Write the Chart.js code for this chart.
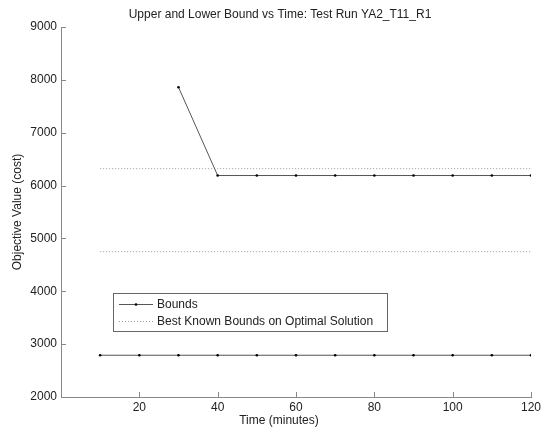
<!DOCTYPE html>
<html lang="en">
<head>
  <meta charset="UTF-8" />
  <title>Upper and Lower Bound vs Time</title>
  <script src="https://cdn.jsdelivr.net/npm/chart.js"></script>
  <style>
    html, body { margin: 0; padding: 0; background: #fff; }
    #wrap { width: 548px; height: 433px; }
  </style>
</head>
<body>
  <div id="wrap"><canvas id="boundChart" width="548" height="433"></canvas></div>

  <script>
    // data
    const timeMinutes = [10, 20, 30, 40, 50, 60, 70, 80, 90, 100, 110, 120];
    const upperBound = [null, null, 7860, 6190, 6190, 6190, 6190, 6190, 6190, 6190, 6190, 6190];
    const lowerBound = [2790, 2790, 2790, 2790, 2790, 2790, 2790, 2790, 2790, 2790, 2790, 2790];
    const bestUpper = [6320, 6320, 6320, 6320, 6320, 6320, 6320, 6320, 6320, 6320, 6320, 6320];
    const bestLower = [4750, 4750, 4750, 4750, 4750, 4750, 4750, 4750, 4750, 4750, 4750, 4750];
    const xTicks = [20, 40, 60, 80, 100, 120];
    const yTicks = [2000, 3000, 4000, 5000, 6000, 7000, 8000, 9000];

    const FONT = '"Liberation Sans", Arial, sans-serif';
    const toPoints = arr => timeMinutes.map((t, i) => ({ x: t, y: arr[i] }));

    const boundStyle = {
      label: 'Bounds',
      borderColor: '#555',
      borderWidth: 1,
      pointRadius: 1.3,
      pointBackgroundColor: '#000',
      pointBorderWidth: 0,
      fill: false,
      tension: 0
    };
    const bestStyle = {
      label: 'Best Known Bounds on Optimal Solution',
      borderColor: '#999',
      borderWidth: 1,
      borderDash: [1, 2],
      pointRadius: 0,
      fill: false,
      tension: 0
    };

    // titles, inward ticks and the boxed legend, MATLAB style
    const matlabLook = {
      id: 'matlabLook',
      afterDraw(chart) {
        const ctx = chart.ctx;
        const xs = chart.scales.x, ys = chart.scales.y;
        const a = chart.chartArea;
        ctx.save();
        ctx.strokeStyle = '#888';
        ctx.lineWidth = 1;
        ctx.beginPath();
        xTicks.forEach(v => {
          const px = Math.round(xs.getPixelForValue(v)) + 0.5;
          ctx.moveTo(px, a.bottom);
          ctx.lineTo(px, a.bottom - 5);
        });
        yTicks.forEach(v => {
          const py = Math.round(ys.getPixelForValue(v)) + 0.5;
          ctx.moveTo(a.left, py);
          ctx.lineTo(a.left + 5, py);
        });
        ctx.stroke();

        ctx.fillStyle = '#222';
        ctx.font = '12px ' + FONT;
        ctx.textAlign = 'center';
        ctx.textBaseline = 'middle';
        ctx.fillText('Upper and Lower Bound vs Time: Test Run YA2_T11_R1', 280, 15);
        ctx.fillText('Time (minutes)', 279, 421);
        ctx.save();
        ctx.translate(18, (a.top + a.bottom) / 2);
        ctx.rotate(-Math.PI / 2);
        ctx.fillText('Objective Value (cost)', 0, 0);
        ctx.restore();

        // legend box
        const lx = 113, ly = 293, lw = 274, lh = 38;
        ctx.fillStyle = '#fff';
        ctx.fillRect(lx, ly, lw, lh);
        ctx.strokeStyle = '#666';
        ctx.strokeRect(lx + 0.5, ly + 0.5, lw, lh);
        const seen = [];
        chart.data.datasets.forEach(ds => {
          if (!seen.find(s => s.label === ds.label)) seen.push(ds);
        });
        seen.forEach((ds, i) => {
          const ry = 304 + i * 17 + 0.5;
          ctx.strokeStyle = ds.borderColor;
          ctx.setLineDash(ds.borderDash || []);
          ctx.beginPath();
          ctx.moveTo(119, ry);
          ctx.lineTo(153, ry);
          ctx.stroke();
          ctx.setLineDash([]);
          if (ds.pointRadius > 0) {
            ctx.fillStyle = '#000';
            ctx.beginPath();
            ctx.arc(136, ry, 1.3, 0, Math.PI * 2);
            ctx.fill();
          }
          ctx.fillStyle = '#222';
          ctx.textAlign = 'left';
          ctx.fillText(ds.label, 157, ry);
        });
        ctx.restore();
      }
    };

    new Chart(document.getElementById('boundChart'), {
      type: 'line',
      data: {
        datasets: [
          Object.assign({ data: toPoints(upperBound) }, boundStyle),
          Object.assign({ data: toPoints(lowerBound) }, boundStyle),
          Object.assign({ data: toPoints(bestUpper) }, bestStyle),
          Object.assign({ data: toPoints(bestLower) }, bestStyle)
        ]
      },
      options: {
        responsive: false,
        animation: false,
        spanGaps: false,
        layout: { padding: { top: 27, right: 17, left: 0, bottom: 0 } },
        plugins: {
          legend: { display: false },
          title: { display: false },
          tooltip: { enabled: false }
        },
        scales: {
          x: {
            type: 'linear',
            min: 0,
            max: 120,
            afterFit: s => { s.height = 36; },
            afterBuildTicks: s => { s.ticks = xTicks.map(v => ({ value: v })); },
            grid: { display: false, drawTicks: false },
            border: { color: '#888', width: 1 },
            ticks: { color: '#222', font: { family: FONT, size: 12 }, padding: 3, maxRotation: 0, callback: v => String(v) }
          },
          y: {
            min: 2000,
            max: 9000,
            afterFit: s => { s.width = 61; },
            afterBuildTicks: s => { s.ticks = yTicks.map(v => ({ value: v })); },
            grid: { display: false, drawTicks: false },
            border: { color: '#888', width: 1 },
            ticks: { color: '#222', font: { family: FONT, size: 12 }, padding: 4, callback: v => String(v) }
          }
        }
      },
      plugins: [matlabLook]
    });
  </script>
</body>
</html>
